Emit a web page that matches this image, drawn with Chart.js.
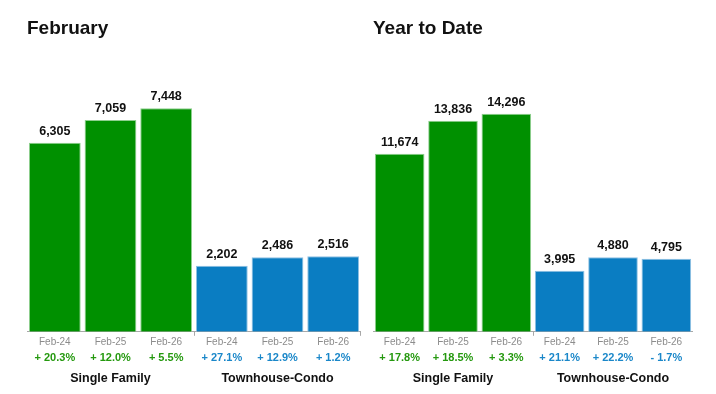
<!DOCTYPE html>
<html>
<head>
<meta charset="utf-8">
<script src="https://cdn.jsdelivr.net/npm/chart.js@4.4.1/dist/chart.umd.min.js"></script>
<style>
  body { margin: 0; background: #fff; width: 716px; height: 394px; position: relative; overflow: hidden; }
  .box { position: absolute; top: 0; height: 394px; }
  #febBox { left: 27px; width: 334px; }
  #ytdBox { left: 373px; width: 320px; }
</style>
</head>
<body>
<div class="box" id="febBox"><canvas id="febChart"></canvas></div>
<div class="box" id="ytdBox"><canvas id="ytdChart"></canvas></div>
<script>
// ---- data ----
const periods = ['Feb-24', 'Feb-25', 'Feb-26', 'Feb-24', 'Feb-25', 'Feb-26'];
const groupLabels = ['', 'Single Family', '', '', 'Townhouse-Condo', ''];

const febValues = [6305, 7059, 7448, 2202, 2486, 2516];
const febChanges = ['+ 20.3%', '+ 12.0%', '+ 5.5%', '+ 27.1%', '+ 12.9%', '+ 1.2%'];

const ytdValues = [11674, 13836, 14296, 3995, 4880, 4795];
const ytdChanges = ['+ 17.8%', '+ 18.5%', '+ 3.3%', '+ 21.1%', '+ 22.2%', '- 1.7%'];

const COLOR = {
  green: '#009000',
  greenEdge: '#8fcf8f',
  blue: '#0a7dc2',
  blueEdge: '#8ec0e2',
  greenText: '#25990f',
  blueText: '#1a87c9',
  period: '#8c8c8c',
  axis: '#a8a8a8',
  text: '#111',
};

const SANS = '"Liberation Sans", Arial, sans-serif';
const NARROW = '"Liberation Sans Narrow", "Liberation Sans", Arial, sans-serif';

const byGroup = (a, b) => ctx => (ctx.index < 3 ? a : b);

// numbers drawn over each bar
const barValueLabels = {
  id: 'barValueLabels',
  afterDatasetsDraw(chart) {
    const { ctx } = chart;
    const meta = chart.getDatasetMeta(0);
    const data = chart.data.datasets[0].data;
    ctx.save();
    ctx.font = 'bold 12.5px ' + SANS;
    ctx.fillStyle = COLOR.text;
    ctx.textAlign = 'center';
    ctx.textBaseline = 'alphabetic';
    meta.data.forEach((bar, i) => {
      ctx.fillText(data[i].toLocaleString('en-US'), bar.x, bar.y - 8);
    });
    ctx.restore();
  },
};

function makeChart(canvasId, title, values, changes, yMax) {
  return new Chart(document.getElementById(canvasId).getContext('2d'), {
    type: 'bar',
    data: {
      labels: periods,
      datasets: [{
        data: values,
        backgroundColor: values.map((_, i) => (i < 3 ? COLOR.green : COLOR.blue)),
        borderColor: values.map((_, i) => (i < 3 ? COLOR.greenEdge : COLOR.blueEdge)),
        borderWidth: 1,
        barPercentage: 0.93,
        categoryPercentage: 1,
      }],
    },
    options: {
      responsive: true,
      maintainAspectRatio: false,
      animation: false,
      layout: { padding: { top: 0, bottom: 6, left: 0, right: 0 } },
      plugins: {
        legend: { display: false },
        tooltip: { enabled: false },
        title: {
          display: true,
          text: title,
          align: 'start',
          color: COLOR.text,
          font: { family: NARROW, size: 19, weight: 'bold' },
          padding: { top: 17, bottom: 22 },
        },
      },
      scales: {
        y: { display: false, min: 0, max: yMax },
        x: {
          weight: 0,
          grid: {
            offset: true,
            drawOnChartArea: false,
            drawTicks: true,
            tickLength: 4,
            color: ctx => (ctx.index === 0 || ctx.index === 3 || ctx.index === undefined ? COLOR.axis : 'rgba(0,0,0,0)'),
          },
          border: { display: true, color: COLOR.axis, width: 1 },
          ticks: { color: COLOR.period, font: { family: SANS, size: 10 }, padding: 0, autoSkip: false, maxRotation: 0 },
        },
        x2: {
          type: 'category',
          position: 'bottom',
          weight: 1,
          offset: true,
          labels: changes,
          grid: { display: false, drawTicks: false },
          border: { display: false },
          ticks: {
            color: byGroup(COLOR.greenText, COLOR.blueText),
            font: { family: SANS, size: 11, weight: 'bold' },
            padding: 4, autoSkip: false, maxRotation: 0,
          },
        },
        x3: {
          type: 'category',
          position: 'bottom',
          weight: 2,
          offset: true,
          labels: groupLabels,
          grid: { display: false, drawTicks: false },
          border: { display: false },
          ticks: {
            color: COLOR.text,
            font: { family: SANS, size: 12.5, weight: 'bold' },
            padding: 2, autoSkip: false, maxRotation: 0,
          },
        },
      },
    },
    plugins: [barValueLabels],
  });
}

makeChart('febChart', 'February', febValues, febChanges, 9000);
makeChart('ytdChart', 'Year to Date', ytdValues, ytdChanges, 17700);
</script>
</body>
</html>
